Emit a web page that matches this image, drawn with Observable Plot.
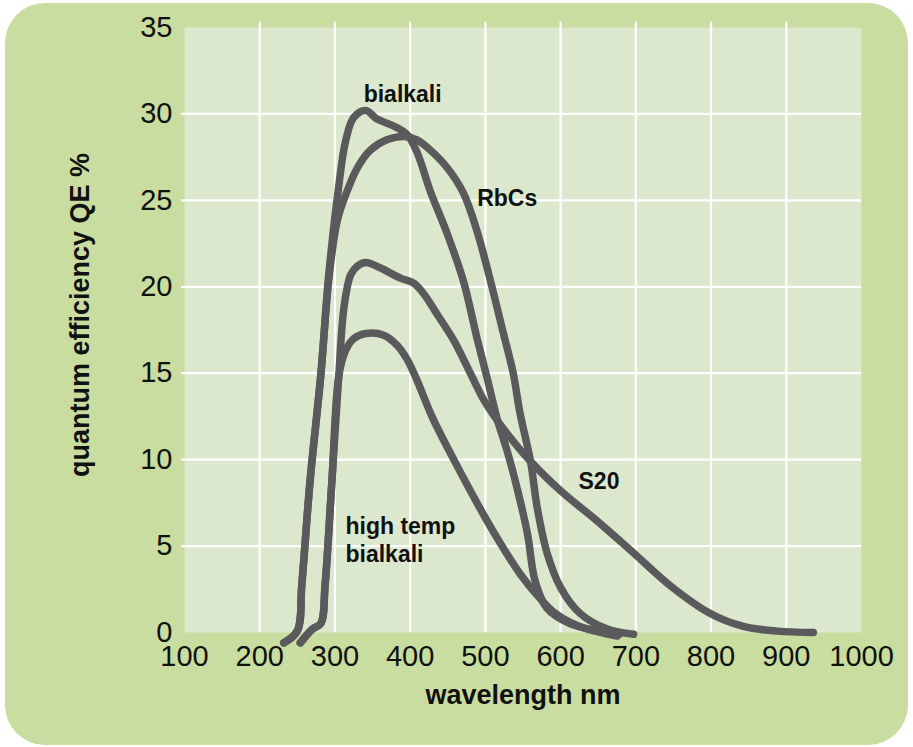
<!DOCTYPE html>
<html>
<head>
<meta charset="utf-8">
<script src="https://cdn.jsdelivr.net/npm/d3@7"></script>
<script src="https://cdn.jsdelivr.net/npm/@observablehq/plot@0.6"></script>
<style>
  html, body { margin: 0; padding: 0; background: #ffffff; }
  #wrap { position: relative; width: 913px; height: 747px; }
  #bg { position: absolute; left: 5px; top: 3px; width: 903px; height: 742px; border-radius: 40px; background: #c8dd9f; }
  #chart { position: absolute; left: 0; top: 0; }
  #chart svg { background: transparent !important; overflow: visible; }
</style>
</head>
<body>
<div id="wrap"><div id="bg"></div><div id="chart"></div></div>
<script>
// ---- data ----
const xTicks = [100, 200, 300, 400, 500, 600, 700, 800, 900, 1000];
const yTicks = [0, 5, 10, 15, 20, 25, 30, 35];
const xGrid = [200, 300, 400, 500, 600, 700, 800, 900];
const yGrid = [5, 10, 15, 20, 25, 30];

const bialkaliNm = [232, 250, 256, 267, 281, 292, 305, 314, 325, 341, 356, 378, 396, 409, 427, 449, 471, 489, 503, 516, 529, 543, 556, 566, 582, 613, 650, 678];
const bialkaliQE = [-0.6, 0.1, 2.8, 8.8, 14.8, 20.8, 25.8, 28.4, 29.8, 30.2, 29.7, 29.3, 28.8, 27.8, 25.5, 23.1, 20.3, 17.0, 14.6, 12.3, 10.5, 8.2, 5.7, 3.0, 1.4, 0.5, 0.1, -0.1];

const rbcsNm = [232, 250, 256, 267, 281, 292, 303, 315, 330, 347, 369, 392, 409, 427, 449, 471, 489, 507, 524, 537, 546, 560, 569, 582, 600, 626, 662, 697];
const rbcsQE = [-0.6, 0.1, 2.8, 8.8, 14.8, 20.5, 23.8, 25.4, 26.9, 27.9, 28.5, 28.7, 28.5, 27.9, 26.9, 25.4, 23.2, 20.3, 17.3, 15.0, 12.7, 9.9, 7.2, 4.6, 2.6, 1.1, 0.2, -0.1];

const s20Nm = [254, 270, 281, 287, 296, 305, 312, 321, 330, 341, 360, 387, 405, 418, 436, 458, 480, 500, 529, 560, 600, 650, 697, 746, 799, 843, 888, 936];
const s20QE = [-0.6, 0.2, 0.5, 2.8, 8.8, 14.8, 18.8, 20.7, 21.2, 21.4, 21.1, 20.5, 20.2, 19.6, 18.4, 16.9, 15.0, 13.3, 11.5, 9.9, 8.2, 6.4, 4.6, 2.7, 1.1, 0.35, 0.08, 0.0];

const hotNm = [254, 270, 281, 287, 296, 305, 314, 325, 341, 365, 383, 396, 409, 430, 458, 480, 503, 525, 546, 568, 590, 612, 635, 675];
const hotQE = [-0.6, 0.2, 0.5, 2.8, 8.8, 14.8, 16.3, 17.0, 17.3, 17.2, 16.6, 15.8, 14.6, 12.4, 10.0, 8.2, 6.4, 4.8, 3.4, 2.2, 1.2, 0.6, 0.2, -0.2];

const labelText = ["bialkali", "RbCs", "S20"];
const labelNm = [390, 529, 651];
const labelQE = [31.1, 25.1, 8.7];
const hotLabelText = ["high temp", "bialkali"];
const hotLabelNm = [314, 314];
const hotLabelQE = [6.1, 4.5];

const xTitle = "wavelength nm";
const yTitle = "quantum efficiency QE %";

// ---- build table ----
function series(name, nm, qe) { return nm.map((x, i) => ({ name, nm: x, qe: qe[i] })); }
const curves = [
  ...series("bialkali", bialkaliNm, bialkaliQE),
  ...series("RbCs", rbcsNm, rbcsQE),
  ...series("S20", s20Nm, s20QE),
  ...series("high temp bialkali", hotNm, hotQE)
];
const labels = labelText.map((t, i) => ({ t, nm: labelNm[i], qe: labelQE[i] }));
const hotLabels = hotLabelText.map((t, i) => ({ t, nm: hotLabelNm[i], qe: hotLabelQE[i] }));

const LINE = "#5a5a5c";
const FONT = "'Liberation Sans', Arial, sans-serif";

const chart = Plot.plot({
  width: 913,
  height: 747,
  marginLeft: 184,
  marginRight: 52,
  marginTop: 27,
  marginBottom: 115,
  style: { fontFamily: FONT, background: "transparent", color: "#111" },
  x: { domain: [100, 1000], ticks: xTicks, label: null },
  y: { domain: [0, 35], ticks: yTicks, label: null },
  marks: [
    Plot.frame({ fill: "#dce8cd", stroke: null }),
    Plot.ruleX(xGrid, { y1: 0, y2: 35.3, stroke: "#ffffff", strokeWidth: 2.2 }),
    Plot.ruleY(yGrid, { x1: 96, x2: 1000, stroke: "#ffffff", strokeWidth: 2.2 }),
    Plot.axisX({ ticks: xTicks, tickSize: 0, tickPadding: 13, fontSize: 29, label: null, tickFormat: d => String(d) }),
    Plot.axisY({ ticks: yTicks, tickSize: 0, tickPadding: 12, fontSize: 29, label: null, tickFormat: d => String(d) }),
    Plot.line(curves, { x: "nm", y: "qe", z: "name", stroke: LINE, strokeWidth: 7.5, curve: "catmull-rom", strokeLinejoin: "round" }),
    Plot.text(labels, { x: "nm", y: "qe", text: "t", fontSize: 23, fontWeight: "bold", fill: "#111" }),
    Plot.text(hotLabels, { x: "nm", y: "qe", text: "t", fontSize: 23, fontWeight: "bold", fill: "#111", textAnchor: "start" }),
    Plot.text([xTitle], { frameAnchor: "bottom", dy: 71, text: d => d, fontSize: 27, fontWeight: "bold", fill: "#111" }),
    Plot.text([yTitle], { frameAnchor: "left", textAnchor: "middle", dx: -104, dy: -15, rotate: -90, text: d => d, fontSize: 27, fontWeight: "bold", fill: "#111" })
  ]
});
document.getElementById("chart").appendChild(chart);
</script>
</body>
</html>
